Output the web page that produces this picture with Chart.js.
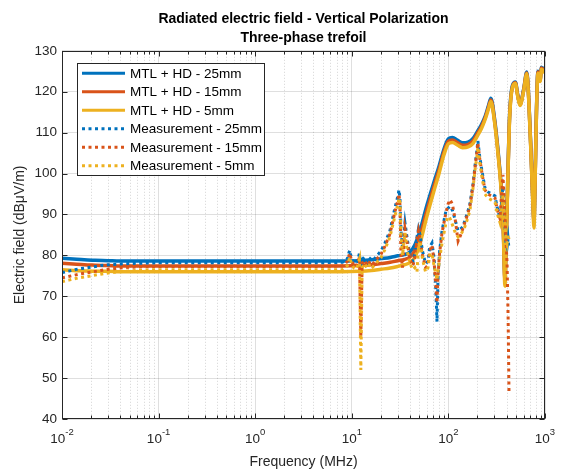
<!DOCTYPE html>
<html><head><meta charset="utf-8">
<script src="https://cdn.jsdelivr.net/npm/chart.js@4.4.0/dist/chart.umd.min.js"></script>
<style>html,body{margin:0;padding:0;background:#fff;}#wrap{width:564px;height:471px;}</style>
</head><body><div id="wrap"><canvas id="c" width="564" height="471"></canvas></div>
<script>
const titleLines = ['Radiated electric field - Vertical Polarization', 'Three-phase trefoil'];
const xTitle = 'Frequency (MHz)';
const yTitle = 'Electric field (dB\u03BCV/m)';
const seriesLabels = ['MTL + HD - 25mm', 'MTL + HD - 15mm', 'MTL + HD - 5mm',
                      'Measurement - 25mm', 'Measurement - 15mm', 'Measurement - 5mm'];
const xTickValues = [0.01, 0.1, 1, 10, 100, 1000];
const xTickExps = ['-2', '-1', '0', '1', '2', '3'];
const yTickValues = [40, 50, 60, 70, 80, 90, 100, 110, 120, 130];

// Simulation (MTL + HD)
const simFreq = [0.01,0.013,0.017,0.022,0.03,0.04,0.06,0.1,0.3,1,3,8,12,16,20,25,30,35,40,45,50,60,70,80,90,100,110,125,140,160,180,200,220,240,260,275,300,330,355,370,385,395,410,430,460,494,520,551,600,648,680,720,750,769,790,815,845,870,890,920,960,1000];
const sim25 = [79.3,79.1,78.9,78.8,78.7,78.6,78.6,78.6,78.6,78.6,78.6,78.6,78.7,78.9,79.2,79.5,79.9,80.2,80.8,82.6,85.5,92.3,97.5,101.8,106.0,108.5,108.8,108.1,107.5,107.7,108.6,110.3,112.0,114.0,116.6,118.4,113.5,104.5,95.5,87.0,74.5,82.5,97.0,114.2,121.5,122.4,119.5,117.0,120.5,124.8,118.0,104.0,93.0,88.5,99.0,115.0,125.0,123.8,123.0,126.0,125.2,126.0];
const sim15 = [78.1,77.9,77.7,77.6,77.5,77.4,77.4,77.4,77.4,77.4,77.4,77.4,77.5,77.7,78.0,78.3,78.7,79.0,79.6,81.2,84.0,91.0,96.4,100.9,105.3,107.9,108.2,107.5,106.9,107.1,108.0,109.8,111.5,113.6,116.2,118.0,113.1,104.0,95.0,86.5,74.0,82.0,96.6,113.8,121.2,122.2,119.3,116.8,120.3,124.6,117.8,103.7,92.6,88.0,98.7,114.7,124.8,123.6,122.8,125.8,125.0,125.8];
const sim5  = [76.5,76.3,76.2,76.1,76.1,76.0,76.0,76.0,76.0,76.0,76.0,76.0,76.1,76.3,76.6,76.9,77.3,77.7,78.2,79.6,82.3,89.6,95.3,100.0,104.6,107.3,107.6,106.9,106.3,106.5,107.4,109.2,111.0,113.2,115.8,117.6,112.7,103.6,94.5,86.0,72.5,81.5,96.2,113.4,121.0,122.0,119.1,116.6,120.1,124.4,117.5,103.4,92.2,86.7,98.4,114.4,124.5,123.4,122.5,125.5,124.8,125.5];

// Measurements
const measFreq = [0.01,0.012,0.015,0.02,0.025,0.03,0.04,0.05,0.07,0.1,0.2,0.5,1,2,5,8,9,9.5,10,10.5,11,11.5,12,12.4,12.8,13.5,14.5,15.5,16.5,18,20,22,24.8,27.9,30,30.8,31.5,32.3,33.5,35.5,37.5,40,43,45,47.3,49,50.8,54,58,61.5,64,67.6,71,74,76.2,78,81,85.9,90,94.5,99,104,110,118,126,134,141,148,158,167,180,190,198,202,210,223,239,257,280,304,318,342,355,367,380,394,405,415,424];
const meas25 = [75.8,76.2,76.7,77.1,77.5,77.7,77.9,78.0,78.1,78.2,
  78.2,78.2,78.2,78.2,78.2,78.3,79.2,81.2,79.0,78.3,
  78.0,78.8,80.5,77.0,79.0,79.6,78.3,79.2,78.6,79.8,
  81.0,83.0,86.0,91.5,94.5,96.0,94.0,86.0,82.0,88.0,
  84.0,80.0,78.5,80.5,84.5,86.5,85.0,81.0,78.0,78.5,
  82.0,83.0,79.5,72.0,63.8,74.0,81.0,86.0,88.5,91.0,
  91.5,92.0,91.0,88.5,86.0,86.5,87.0,88.5,90.5,92.5,
  97.5,102.5,106.0,108.0,104.5,100.5,96.5,95.5,95.0,94.5,
  92.0,89.0,93.0,96.8,90.0,83.0,82.0,84.0,81.5];
const meas15 = [74.5,74.9,75.4,75.9,76.3,76.6,76.9,77.1,77.2,77.3,
  77.3,77.3,77.3,77.3,77.3,77.4,78.5,80.5,78.5,77.6,
  77.2,78.2,79.5,60.0,78.0,78.8,77.5,78.6,77.9,79.0,
  80.2,82.2,85.2,90.5,93.5,95.0,92.5,80.0,77.0,86.5,
  83.0,79.0,77.5,79.5,84.0,86.0,84.0,80.0,77.0,77.5,
  81.0,82.5,78.5,73.0,68.4,75.0,80.5,85.5,88.0,90.5,
  92.5,93.6,92.5,88.5,83.5,85.0,86.5,88.0,90.0,92.0,
  97.0,102.0,105.5,107.5,104.0,100.0,96.0,95.0,94.5,94.0,
  91.5,89.0,95.0,99.7,92.0,84.0,78.0,65.0,46.4];
const meas5 = [73.6,74.0,74.5,75.0,75.4,75.7,76.0,76.2,76.4,76.5,
  76.5,76.5,76.5,76.5,76.5,76.5,77.5,79.5,77.8,76.9,
  76.6,77.5,79.0,52.0,77.0,78.0,76.8,78.0,77.2,78.2,
  79.4,81.4,84.5,89.5,92.5,94.0,93.0,85.0,80.0,85.5,
  81.0,78.0,76.5,77.0,76.0,82.0,83.5,79.0,76.0,77.0,
  80.0,80.5,77.5,75.5,74.0,76.0,79.0,83.0,85.5,88.0,
  89.5,89.0,87.5,85.5,84.5,85.0,86.0,87.0,89.0,91.0,
  96.5,101.5,104.5,106.5,103.0,99.0,95.0,94.0,93.5,93.0,
  90.5,88.0,91.0,95.0,89.0,84.5,83.0,85.0,84.0];

const FONT = "'Liberation Sans', Arial, Helvetica, sans-serif";
const colors = ['#0072BD', '#D95319', '#EDB120'];
const dotted = [3, 3.5];
const toPts = (xs, ys) => xs.map((x, i) => ({x: x, y: ys[i]}));

const simSeries = [sim25, sim15, sim5];
const measSeries = [meas25, meas15, meas5];
const datasets = [];
simSeries.forEach((s, i) => datasets.push({
  label: seriesLabels[i], data: toPts(simFreq, s), borderColor: colors[i],
  borderWidth: 3.5, pointRadius: 0, cubicInterpolationMode: 'monotone', fill: false, order: 5 - i
}));
measSeries.forEach((s, i) => datasets.push({
  label: seriesLabels[3 + i], data: toPts(measFreq, s), borderColor: colors[i],
  borderWidth: 3, borderDash: dotted, borderCapStyle: 'butt', pointRadius: 0, tension: 0, fill: false, order: 2 - i
}));

const xMinor = [];
for (let e = -2; e <= 2; e++) for (let m = 2; m <= 9; m++) xMinor.push(m * Math.pow(10, e));

const framePlugin = {
  id: 'frame',
  beforeDatasetsDraw(chart) {
    const {ctx, chartArea: a, scales: {x}} = chart;
    ctx.save();
    ctx.strokeStyle = 'rgba(38,38,38,0.2)';
    ctx.lineWidth = 1;
    ctx.setLineDash([1, 2]);
    xMinor.forEach(v => {
      const px = Math.round(x.getPixelForValue(v)) + 0.5;
      ctx.beginPath(); ctx.moveTo(px, a.top); ctx.lineTo(px, a.bottom); ctx.stroke();
    });
    ctx.restore();
  },
  afterDatasetsDraw(chart) {
    const {ctx, chartArea: a, scales: {x, y}} = chart;
    ctx.save();
    ctx.strokeStyle = '#262626';
    ctx.lineWidth = 1;
    const L = Math.round(a.left) + 0.5, R = Math.round(a.right) - 0.5;
    const T = Math.round(a.top) + 0.5, B = Math.round(a.bottom) - 0.5;
    ctx.strokeRect(L, T, R - L, B - T);
    ctx.beginPath();
    xTickValues.forEach(v => {
      const px = Math.round(x.getPixelForValue(v)) + 0.5;
      ctx.moveTo(px, B); ctx.lineTo(px, B - 5);
      ctx.moveTo(px, T); ctx.lineTo(px, T + 5);
    });
    xMinor.forEach(v => {
      const px = Math.round(x.getPixelForValue(v)) + 0.5;
      ctx.moveTo(px, B); ctx.lineTo(px, B - 3);
      ctx.moveTo(px, T); ctx.lineTo(px, T + 3);
    });
    yTickValues.forEach(v => {
      const py = Math.round(y.getPixelForValue(v)) + 0.5;
      ctx.moveTo(L, py); ctx.lineTo(L + 5, py);
      ctx.moveTo(R, py); ctx.lineTo(R - 5, py);
    });
    ctx.stroke();
    ctx.restore();
  },
  afterDraw(chart) {
    const {ctx, chartArea: a, scales: {x}} = chart;
    ctx.save();
    ctx.fillStyle = '#262626';
    ctx.textBaseline = 'alphabetic';
    ctx.textAlign = 'left';
    xTickValues.forEach((v, i) => {
      const px = x.getPixelForValue(v);
      ctx.font = '13.5px ' + FONT;
      const w1 = ctx.measureText('10').width;
      ctx.font = '9.5px ' + FONT;
      const w2 = ctx.measureText(xTickExps[i]).width;
      const x0 = px - (w1 + w2) / 2;
      ctx.font = '13.5px ' + FONT;
      ctx.fillText('10', x0, a.bottom + 24);
      ctx.font = '9.5px ' + FONT;
      ctx.fillText(xTickExps[i], x0 + w1, a.bottom + 16);
    });
    const lx = a.left + 15, ly = a.top + 12, lw = 187, lh = 112;
    ctx.fillStyle = '#ffffff';
    ctx.fillRect(lx, ly, lw, lh);
    ctx.strokeStyle = '#262626';
    ctx.lineWidth = 1;
    ctx.strokeRect(Math.round(lx) + 0.5, Math.round(ly) + 0.5, lw, lh);
    ctx.font = '13.5px ' + FONT;
    ctx.textBaseline = 'middle';
    chart.data.datasets.forEach((ds, i) => {
      const cy = ly + 10.5 + i * 18.5;
      ctx.strokeStyle = ds.borderColor;
      ctx.lineWidth = 3;
      ctx.lineCap = 'butt';
      ctx.setLineDash(ds.borderDash || []);
      ctx.beginPath(); ctx.moveTo(lx + 5, cy); ctx.lineTo(lx + 48, cy); ctx.stroke();
      ctx.setLineDash([]);
      ctx.fillStyle = '#000';
      ctx.fillText(ds.label, lx + 53, cy + 0.5);
    });
    ctx.restore();
  }
};

new Chart(document.getElementById('c'), {
  type: 'line',
  data: {datasets: datasets},
  plugins: [framePlugin],
  options: {
    responsive: false, animation: false, devicePixelRatio: 1,
    layout: {padding: {left: 0, right: 19, top: 0, bottom: 0}},
    plugins: {
      legend: {display: false},
      tooltip: {enabled: false},
      title: {display: true, fullSize: false, text: titleLines, color: '#000',
        font: {family: FONT, size: 14, weight: 'bold', lineHeight: 1.35},
        padding: {top: 10, bottom: 3}}
    },
    scales: {
      x: {
        type: 'logarithmic', min: 0.01, max: 1000,
        afterBuildTicks: s => { s.ticks = xTickValues.map(v => ({value: v})); },
        afterFit: s => { s.height = 52; },
        ticks: {display: false},
        grid: {color: 'rgba(38,38,38,0.15)', drawTicks: false, lineWidth: 1},
        border: {display: false},
        title: {display: true, text: xTitle, color: '#262626', font: {family: FONT, size: 14}, padding: {top: 0, bottom: 0}}
      },
      y: {
        type: 'linear', min: 40, max: 130,
        afterBuildTicks: s => { s.ticks = yTickValues.map(v => ({value: v})); },
        afterFit: s => { s.width = 62; },
        ticks: {color: '#262626', font: {family: FONT, size: 13.5}, padding: 5},
        grid: {color: 'rgba(38,38,38,0.15)', drawTicks: false, lineWidth: 1},
        border: {display: false},
        title: {display: true, text: yTitle, color: '#262626', font: {family: FONT, size: 14}, padding: {top: 12, bottom: 0}}
      }
    }
  }
});
</script></body></html>
